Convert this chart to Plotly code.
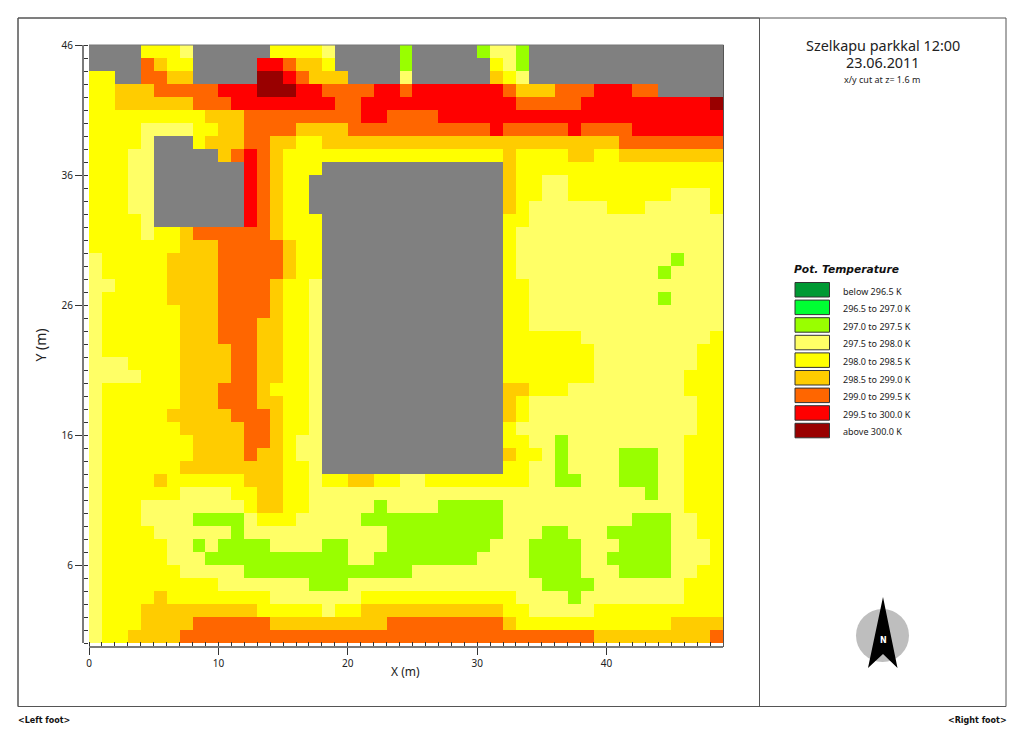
import plotly.graph_objects as go

# Cell classes per row, top row first, run-length coded "class:count"
# G = building (gray); 1..9 = legend classes
ROWS = [
 "G:4 5:3 4:1 G:6 5:4 4:1 G:5 3:1 G:5 3:1 4:2 3:1 G:15",
 "G:4 7:1 6:1 5:2 G:5 8:2 7:1 6:2 5:1 G:5 3:1 G:6 5:1 4:1 3:1 G:15",
 "5:2 G:2 7:2 6:2 G:5 9:2 8:1 7:1 6:3 G:4 4:1 G:6 6:1 5:1 4:1 G:15",
 "5:2 6:3 7:5 8:3 9:3 8:2 7:4 8:2 7:1 8:7 7:1 6:3 7:3 8:3 7:2 G:5",
 "5:2 6:6 7:3 8:8 7:2 8:12 7:5 8:10 9:1",
 "5:9 6:3 7:9 8:2 7:4 8:22",
 "5:4 4:4 5:2 6:2 7:4 6:4 7:11 8:1 7:5 8:1 7:4 8:7",
 "5:4 4:1 G:3 5:1 6:3 7:2 6:2 5:2 6:23 7:8",
 "5:3 4:2 G:5 6:1 7:1 8:1 7:1 6:1 5:17 6:1 5:4 6:2 5:2 6:8",
 "5:3 4:2 G:7 8:1 7:1 6:1 5:3 G:14 6:1 5:16",
 "5:3 4:2 G:7 8:1 7:1 6:1 5:2 G:15 6:1 5:2 4:2 5:12",
 "5:3 4:2 G:7 8:1 7:1 6:1 5:2 G:15 6:1 5:2 4:2 5:8 4:3 5:1",
 "5:3 4:2 G:7 8:1 7:1 6:1 5:2 G:15 6:1 5:1 4:6 5:3 4:5 5:1",
 "5:4 4:1 G:7 8:1 7:1 6:1 5:3 G:14 5:2 4:15",
 "5:4 4:1 5:2 6:1 7:6 6:1 5:3 G:14 5:1 4:16",
 "5:7 6:3 7:5 6:1 5:2 G:14 5:1 4:16",
 "4:1 5:5 6:4 7:5 6:1 5:2 G:14 5:1 4:12 3:1 4:3",
 "4:1 5:5 6:4 7:5 6:1 5:2 G:14 5:1 4:11 3:1 4:4",
 "4:2 5:4 6:4 7:4 6:1 5:2 4:1 G:14 5:2 4:15",
 "4:1 5:5 6:4 7:4 6:1 5:2 4:1 G:14 5:2 4:10 3:1 4:4",
 "4:1 5:6 6:3 7:4 6:1 5:2 4:1 G:14 5:2 4:15",
 "4:1 5:6 6:3 7:3 6:2 5:2 4:1 G:14 5:2 4:15",
 "4:1 5:6 6:3 7:3 6:2 5:2 4:1 G:14 5:6 4:10 5:1",
 "4:1 5:6 6:4 7:2 6:2 5:2 4:1 G:14 5:7 4:8 5:2",
 "4:3 5:4 6:4 7:2 6:2 5:2 4:1 G:14 5:7 4:8 5:2",
 "4:4 5:3 6:4 7:2 6:2 5:2 4:1 G:14 5:7 4:7 5:3",
 "4:1 5:6 6:3 7:3 6:1 5:3 4:1 G:14 6:2 5:3 4:9 5:3",
 "4:1 5:6 6:3 7:3 6:2 5:2 4:1 G:14 6:1 5:1 4:13 5:2",
 "4:1 5:5 6:5 7:3 6:1 5:2 4:1 G:14 6:1 5:1 4:13 5:2",
 "4:1 5:6 6:5 7:2 6:1 5:2 4:1 G:14 5:1 4:14 5:2",
 "4:1 5:7 6:4 7:2 6:1 5:1 4:2 G:14 5:2 4:2 3:1 4:9 5:3",
 "4:1 5:7 6:4 7:1 6:2 5:1 4:2 G:14 6:1 5:2 4:1 3:1 4:4 3:3 4:2 5:3",
 "4:1 5:6 6:8 5:2 4:1 G:14 5:2 4:2 3:1 4:4 3:3 4:2 5:3",
 "4:1 5:4 6:1 5:6 6:3 5:2 4:1 5:2 6:2 5:2 4:2 5:8 4:2 3:2 4:3 3:3 4:2 5:3",
 "4:1 5:6 4:4 5:2 6:2 5:2 4:26 3:1 4:2 5:3",
 "4:1 5:3 4:8 5:1 6:2 5:2 4:5 3:1 4:4 3:5 4:14 5:3",
 "4:1 5:3 4:4 3:4 4:1 5:3 4:5 3:11 4:10 3:3 4:2 5:2",
 "4:1 5:4 4:6 3:1 4:11 3:9 4:3 3:2 4:3 3:5 4:2 5:2",
 "4:1 5:5 4:2 3:1 4:1 3:4 4:4 3:2 4:3 3:8 4:3 3:4 4:3 3:4 4:3 5:1",
 "4:1 5:5 4:3 3:11 4:2 3:8 4:4 3:4 4:2 3:5 4:3 5:1",
 "4:1 5:6 4:5 3:13 4:9 3:4 4:3 3:4 4:2 5:2",
 "4:1 5:9 4:7 3:3 4:15 3:4 4:7 5:3",
 "4:1 5:4 6:1 5:8 4:7 5:12 4:4 3:1 4:8 5:3",
 "4:1 5:3 6:9 5:5 4:1 5:2 6:11 5:2 4:5 5:10",
 "4:1 5:3 6:4 7:6 6:9 7:9 6:1 5:12 6:4",
 "4:1 5:2 6:4 7:32 6:9 7:1",
]

LEGEND_LABELS = ["below 296.5 K", "296.5 to 297.0 K", "297.0 to 297.5 K",
                 "297.5 to 298.0 K", "298.0 to 298.5 K", "298.5 to 299.0 K",
                 "299.0 to 299.5 K", "299.5 to 300.0 K", "above 300.0 K"]
LEGEND_COLORS = ["#009933", "#00FF33", "#99FF00", "#FFFF66", "#FFFF00",
                 "#FFCC00", "#FF6600", "#FF0000", "#990000"]
BUILDING = "#808080"
X_TICKS = [0, 10, 20, 30, 40]
Y_TICKS = [6, 16, 26, 36, 46]
N_COLS, N_ROWS = 49, 46


def expand(row):
    out = []
    for tok in row.split():
        k, n = tok.split(":")
        out += [0 if k == "G" else int(k)] * int(n)
    assert len(out) == N_COLS, (row, len(out))
    return out


z = [expand(r) for r in ROWS]
assert len(z) == N_ROWS
xc = [i + 0.5 for i in range(N_COLS)]
yc = [N_ROWS - 0.5 - i for i in range(N_ROWS)]

colors = [BUILDING] + LEGEND_COLORS
colorscale = []
for i, c in enumerate(colors):
    colorscale += [[i / 10, c], [(i + 1) / 10, c]]

# Plot container in pixels: axis lines sit a little outside the cells
AX_L, AX_R, AX_T, AX_B = 83, 723, 45, 647
CELL_L, CELL_B = 89, 643


def px(x):
    return (x - AX_L) / (AX_R - AX_L)


def py(y):
    return (AX_B - y) / (AX_B - AX_T)


FONT = "Noto Sans, sans-serif"
DARK = "#222222"

fig = go.Figure(go.Heatmap(x=xc, y=yc, z=z, zmin=-0.5, zmax=9.5,
                           colorscale=colorscale, showscale=False,
                           hoverinfo="skip"))

shapes = []
ann = []


def rect(x0, y0, x1, y1, line="#444444", w=1, fill="rgba(0,0,0,0)"):
    shapes.append(dict(type="rect", xref="paper", yref="paper",
                       x0=px(x0), x1=px(x1), y0=py(y0), y1=py(y1),
                       line=dict(color=line, width=w), fillcolor=fill, layer="above"))


def text(x, y, s, size, anchor="center", color=DARK, family=FONT, angle=0):
    ann.append(dict(xref="paper", yref="paper", x=px(x), y=py(y), text=s,
                    showarrow=False, xanchor=anchor, yanchor="middle",
                    textangle=angle, font=dict(size=size, color=color, family=family)))


# Page frame
rect(18, 18, 1006, 706.5, line="#555555", w=1)
rect(18, 18, 759.5, 706.5, line="#555555", w=1)
# Plot border on top and right
shapes.append(dict(type="line", xref="paper", yref="paper", x0=px(89), x1=px(723.5),
                   y0=py(45), y1=py(45), line=dict(color="#777777", width=1)))
shapes.append(dict(type="line", xref="paper", yref="paper", x0=px(723.5), x1=px(723.5),
                   y0=py(45), y1=py(647), line=dict(color="#555555", width=1)))

# Titles
text(883, 45, "Szelkapu parkkal 12:00", 14.4)
text(883, 63, "23.06.2011", 14.4)
text(882, 79, "x/y cut at z= 1.6 m", 9)

# Axis titles
text(405, 671, "X (m)", 12)
text(39.5, 345, "Y (m)", 14, angle=-90)

# Legend
text(792, 269, "<b><i>Pot. Temperature</i></b>", 10.7, anchor="left", color="#111111",
     family="DejaVu Sans, sans-serif")
for i, (lab, col) in enumerate(zip(LEGEND_LABELS, LEGEND_COLORS)):
    top = 282.5 + 17.6 * i
    rect(795, top, 829.5, top + 14.5, line="#333333", w=1, fill=col)
    text(841, top + 8.5, lab, 9, anchor="left")

# North arrow
shapes.append(dict(type="circle", xref="paper", yref="paper",
                   x0=px(856), x1=px(909), y0=py(609), y1=py(662),
                   fillcolor="#BEBEBE", line=dict(width=0), layer="above"))
arrow = [(883, 597), (897.5, 668), (883, 654), (868, 668)]
path = "M " + " L ".join(f"{px(a):.5f},{py(b):.5f}" for a, b in arrow) + " Z"
shapes.append(dict(type="path", xref="paper", yref="paper", path=path,
                   fillcolor="#000000", line=dict(width=0), layer="above"))
text(883, 640, "<b>N</b>", 8, color="#FFFFFF", family="DejaVu Sans, sans-serif")

# Footers
text(16, 720, "<b>&lt;Left foot&gt;</b>", 8, anchor="left", color="#111111",
     family="DejaVu Sans, sans-serif")
text(1009, 720, "<b>&lt;Right foot&gt;</b>", 8, anchor="right", color="#111111",
     family="DejaVu Sans, sans-serif")

axis_common = dict(showgrid=False, zeroline=False, showline=True, linecolor="#7a7a7a",
                   linewidth=2, ticks="outside", ticklen=7, tickwidth=1, tickcolor="#333333",
                   tickfont=dict(size=10, color=DARK, family=FONT),
                   anchor="free", position=0, mirror=False, fixedrange=True,
                   minor=dict(ticks="inside", ticklen=4, tickwidth=1, tickcolor="#333333",
                              dtick=1, showgrid=False))

fig.update_layout(
    width=1024, height=742, autosize=False,
    margin=dict(l=AX_L, r=1024 - AX_R, t=AX_T, b=742 - AX_B, pad=0),
    paper_bgcolor="white", plot_bgcolor="white",
    xaxis=dict(range=[0, N_COLS], tickmode="array", tickvals=X_TICKS,
               ticktext=[str(v) for v in X_TICKS],
               domain=[px(CELL_L), 1], **axis_common),
    yaxis=dict(range=[0, N_ROWS], tickmode="array", tickvals=Y_TICKS,
               ticktext=[str(v) for v in Y_TICKS],
               domain=[py(CELL_B), 1], **axis_common),
    shapes=shapes, annotations=ann, showlegend=False,
)

fig.write_html("out.html", config=dict(displayModeBar=False),
               post_script="document.body.style.margin='0';document.body.style.overflow='hidden';")
